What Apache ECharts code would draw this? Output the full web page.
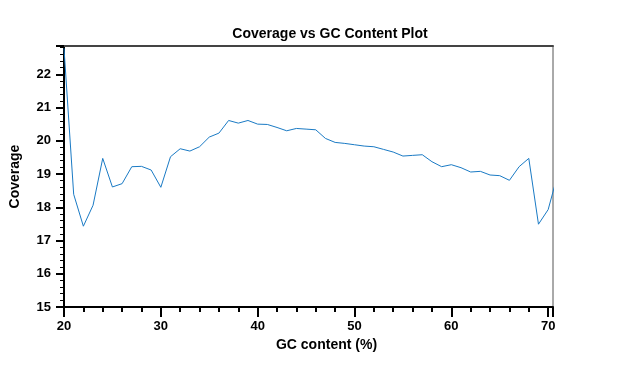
<!DOCTYPE html>
<html>
<head>
<meta charset="utf-8">
<script src="https://cdn.jsdelivr.net/npm/echarts@6/dist/echarts.min.js"></script>
<style>
  html, body { margin: 0; padding: 0; background: #fff; }
  #chart { width: 622px; height: 378px; }
</style>
</head>
<body>
<div id="chart"></div>
<script>
// GC content (%) and mean coverage
const gcContent = [20, 21, 22, 23, 24, 25, 26, 27, 28, 29, 30, 31, 32, 33, 34, 35, 36, 37, 38, 39,
  40, 41, 42, 43, 44, 45, 46, 47, 48, 49, 50, 51, 52, 53, 54, 55, 56, 57, 58, 59,
  60, 61, 62, 63, 64, 65, 66, 67, 68, 69, 70, 71];
const coverage = [22.78, 18.39, 17.43, 18.06, 19.47, 18.61, 18.71, 19.22, 19.23, 19.12,
  18.6, 19.52, 19.76, 19.69, 19.82, 20.11, 20.23, 20.61, 20.53, 20.61,
  20.5, 20.49, 20.4, 20.3, 20.37, 20.35, 20.33, 20.07, 19.95, 19.92,
  19.88, 19.84, 19.82, 19.74, 19.66, 19.54, 19.56, 19.58, 19.37, 19.22,
  19.28, 19.19, 19.06, 19.08, 18.97, 18.95, 18.81, 19.22, 19.47, 17.49,
  17.93, 19.0];

const font = 'Liberation Sans, Arial, sans-serif';
const chart = echarts.init(document.getElementById('chart'));

chart.setOption({
  animation: false,
  title: {
    text: 'Coverage vs GC Content Plot',
    left: 325, top: 22, textAlign: 'center',
    textStyle: { fontFamily: font, fontSize: 14, fontWeight: 'bold', color: '#000' }
  },
  grid: {
    left: 63, right: 69, top: 46, bottom: 71,
    show: true, borderColor: '#555', borderWidth: 1, backgroundColor: '#fff'
  },
  xAxis: [{
    type: 'value', min: 20, max: 70.5, interval: 10,
    name: 'GC content (%)', nameLocation: 'middle', nameGap: 31,
    nameTextStyle: { fontFamily: font, fontSize: 14, fontWeight: 'bold', color: '#000', padding: [0, 0, 0, 36] },
    axisLine: { lineStyle: { color: '#000', width: 2 } },
    axisTick: { length: 10, lineStyle: { color: '#000', width: 2 } },
    minorTick: { show: true, splitNumber: 5, length: 5, lineStyle: { color: '#000', width: 2 } },
    axisLabel: { margin: 13, fontFamily: font, fontSize: 13, fontWeight: 'bold', color: '#000', showMaxLabel: false },
    splitLine: { show: false }
  }, {
    type: 'value', position: 'top', min: 20, max: 70.5,
    axisLine: { show: true, lineStyle: { color: '#444', width: 2 } },
    axisTick: { show: false }, axisLabel: { show: false }, splitLine: { show: false }
  }],
  yAxis: {
    type: 'value', min: 15, max: 22.85, interval: 1,
    name: 'Coverage', nameLocation: 'middle', nameGap: 42,
    nameTextStyle: { fontFamily: font, fontSize: 14, fontWeight: 'bold', color: '#000' },
    axisLine: { show: true, lineStyle: { color: '#000', width: 2 } },
    axisTick: { show: true, length: 8, lineStyle: { color: '#000', width: 2 } },
    minorTick: { show: true, splitNumber: 5, length: 4, lineStyle: { color: '#000', width: 1 } },
    axisLabel: { margin: 13, fontFamily: font, fontSize: 13, fontWeight: 'bold', color: '#000', showMaxLabel: false },
    splitLine: { show: false }
  },
  series: [{
    type: 'line',
    data: gcContent.map((x, i) => [x, coverage[i]]),
    showSymbol: false,
    clip: true,
    lineStyle: { color: '#1a7ac4', width: 1 }
  }]
});
</script>
</body>
</html>
